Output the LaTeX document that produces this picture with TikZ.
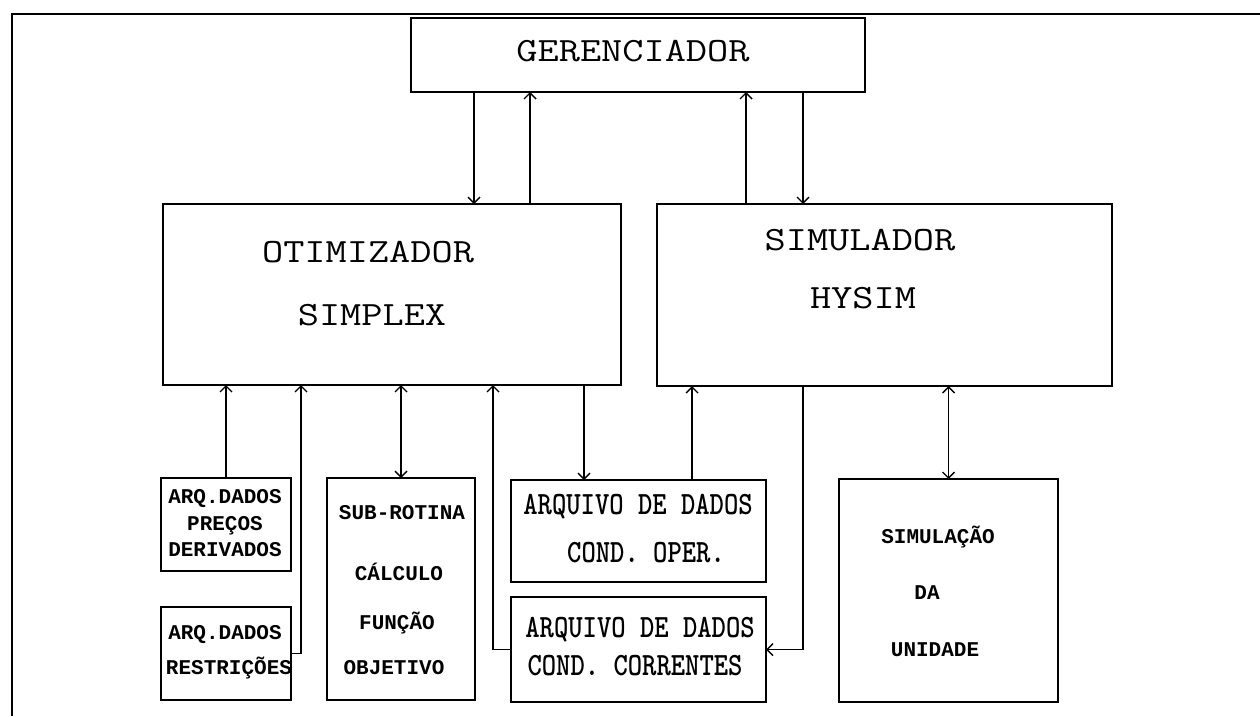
\documentclass[tikz,border=0pt]{standalone}
\usepackage{fontspec}
\usetikzlibrary{arrows.meta}
\newfontfamily\smallfont{Liberation Mono}
\newcommand{\bigtext}[1]{\scalebox{1.21}[1]{#1}}
\newcommand{\midtext}[1]{\scalebox{0.84}[1]{#1}}
\begin{document}
\begin{tikzpicture}[x=1pt,y=-1pt,
  box/.style={draw, line width=2.6pt, inner sep=0pt, outer sep=0pt},
  sbox/.style={draw, line width=1.8pt, inner sep=0pt, outer sep=0pt},
  bigtxt/.style={anchor=base, inner sep=0pt, font=\ttfamily\fontsize{34}{38}\selectfont},
  midtxt/.style={anchor=base, inner sep=0pt, font=\ttfamily\bfseries\fontsize{32.5}{36}\selectfont},
  smalltxt/.style={anchor=base, inner sep=0pt, font=\smallfont\bfseries\fontsize{21}{24}\selectfont},
  conn/.style={line width=1.4pt},
  tip/.tip={Straight Barb[length=6pt,width=12pt,line width=1.4pt]},
  arr/.style={conn, -tip},
  darr/.style={conn, tip-tip}
]
\useasboundingbox (0,0) rectangle (1260,716);
\fill[white] (0,0) rectangle (1260,716);
% outer frame
\draw[line width=2pt] (12,716) -- (12,14) -- (1260,14);

% boxes
\node[box, minimum width=454pt, minimum height=74pt] (ger) at (638,55) {};
\node[box, minimum width=458pt, minimum height=181pt] (otim) at (392,294.5) {};
\node[box, minimum width=455pt, minimum height=182pt] (sim) at (884.5,295) {};
\node[sbox, minimum width=130pt, minimum height=93pt] (prec) at (226,524.5) {};
\node[sbox, minimum width=130pt, minimum height=93pt] (restr) at (226,653.5) {};
\node[sbox, minimum width=148pt, minimum height=222pt] (sub) at (401,589) {};
\node[sbox, minimum width=255pt, minimum height=102pt] (oper) at (638.5,531) {};
\node[sbox, minimum width=255pt, minimum height=105pt] (corr) at (638.5,649.5) {};
\node[sbox, minimum width=219pt, minimum height=223pt] (simul) at (948.5,590.5) {};

% texts
\node[bigtxt] (gert) at (633,61) {\bigtext{GERENCIADOR}};
\node[bigtxt] (otimt1) at (368,262) {\bigtext{OTIMIZADOR}};
\node[bigtxt] (otimt2) at (372,325) {\bigtext{SIMPLEX}};
\node[bigtxt] (simt1) at (860,250) {\bigtext{SIMULADOR}};
\node[bigtxt] (simt2) at (863,308) {\bigtext{HYSIM}};

\node[smalltxt] (prect1) at (225,503) {ARQ.DADOS};
\node[smalltxt] (prect2) at (225,530) {PREÇOS};
\node[smalltxt] (prect3) at (225,556) {DERIVADOS};
\node[smalltxt] (restrt1) at (225,639) {ARQ.DADOS};
\node[smalltxt] (restrt2) at (229,674) {RESTRIÇÕES};

\node[smalltxt] (subt1) at (402,519) {SUB-ROTINA};
\node[smalltxt] (subt2) at (399,580) {CÁLCULO};
\node[smalltxt] (subt3) at (397,629) {FUNÇÃO};
\node[smalltxt] (subt4) at (394,674) {OBJETIVO};

\node[midtxt] (opert1) at (638,514) {\midtext{ARQUIVO DE DADOS}};
\node[midtxt] (opert2) at (646,562) {\midtext{COND. OPER.}};
\node[midtxt] (corrt1) at (640,637) {\midtext{ARQUIVO DE DADOS}};
\node[midtxt] (corrt2) at (635,675) {\midtext{COND. CORRENTES}};

\node[smalltxt] (simult1) at (938,543) {SIMULAÇÃO};
\node[smalltxt] (simult2) at (927,599) {DA};
\node[smalltxt] (simult3) at (935,656) {UNIDADE};

% connectors
\draw[arr] (474,0 |- ger.south) -- (474,0 |- otim.north);
\draw[arr] (530,0 |- otim.north) -- (530,0 |- ger.south);
\draw[arr] (746,0 |- sim.north) -- (746,0 |- ger.south);
\draw[arr] (803,0 |- ger.south) -- (803,0 |- sim.north);

\draw[arr] (prec.north) -- (prec.north |- otim.south);
\draw[arr] (restr.east) -- (301,0 |- restr.east) -- (301,0 |- otim.south);
\draw[darr] (sub.north) -- (sub.north |- otim.south);
\draw[arr] (corr.west) -- (493,0 |- corr.west) -- (493,0 |- otim.south);
\draw[arr] (584,0 |- otim.south) -- (584,0 |- oper.north);
\draw[arr] (692,0 |- oper.north) -- (692,0 |- sim.south);
\draw[arr] (803,0 |- sim.south) -- (803,0 |- corr.east) -- (corr.east);
\draw[darr] (simul.north) -- (simul.north |- sim.south);
\end{tikzpicture}
\end{document}
